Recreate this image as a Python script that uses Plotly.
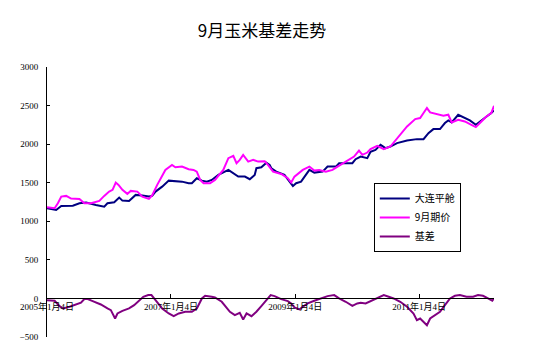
import plotly.graph_objects as go

# ---- data ----
spot_dates = [
    "2005-01-04", "2005-02-27", "2005-03-29", "2005-06-05", "2005-07-14", "2005-08-22",
    "2005-10-19", "2005-12-07", "2005-12-26", "2006-02-04", "2006-03-05", "2006-03-24",
    "2006-05-02", "2006-06-10", "2006-07-19", "2006-08-27", "2006-09-15", "2006-10-05",
    "2006-11-13", "2006-12-22", "2007-03-10", "2007-04-18", "2007-05-07", "2007-06-05",
    "2007-07-05", "2007-08-03", "2007-09-01", "2007-10-10", "2007-12-08", "2008-01-06",
    "2008-02-04", "2008-03-14", "2008-04-12", "2008-05-11", "2008-05-21", "2008-06-19",
    "2008-07-19", "2008-08-07", "2008-08-17", "2008-09-15", "2008-11-02", "2008-12-22",
    "2009-01-10", "2009-02-08", "2009-03-29", "2009-04-27", "2009-06-15", "2009-07-14",
    "2009-09-01", "2009-09-20", "2009-12-07", "2009-12-26", "2010-01-25", "2010-03-05",
    "2010-03-24", "2010-04-22", "2010-05-22", "2010-06-20", "2010-07-19", "2010-08-27",
    "2010-10-25", "2010-12-22", "2011-01-30", "2011-02-28", "2011-03-29", "2011-05-07",
    "2011-06-05", "2011-06-25", "2011-07-15", "2011-08-22", "2011-09-20", "2011-10-30",
    "2011-12-04", "2011-12-27", "2012-01-25", "2012-03-04", "2012-03-20",
]
spot_values = [
    1169, 1147, 1199, 1203, 1234, 1242,
    1212, 1190, 1234, 1247, 1307, 1268,
    1263, 1342, 1333, 1320, 1329, 1385,
    1449, 1527, 1514, 1493, 1493, 1558,
    1527, 1514, 1536, 1601, 1666, 1623,
    1579, 1579, 1545, 1601, 1688, 1700,
    1760, 1731, 1688, 1644, 1601, 1458,
    1493, 1514, 1666, 1631, 1644, 1709,
    1709, 1753, 1753, 1805, 1839, 1818,
    1900, 1926, 1991, 1948, 1969, 2013,
    2047, 2065, 2065, 2143, 2195, 2195,
    2273, 2307, 2281, 2381, 2351, 2307,
    2251, 2294, 2338, 2403, 2437,
]

fut_dates = [
    "2005-01-04", "2005-02-18", "2005-03-09", "2005-03-29", "2005-04-27", "2005-05-26",
    "2005-07-14", "2005-08-12", "2005-09-20", "2005-11-08", "2005-12-07", "2006-01-05",
    "2006-01-25", "2006-02-13", "2006-03-01", "2006-03-24", "2006-04-22", "2006-05-12",
    "2006-06-20", "2006-07-19", "2006-08-27", "2006-09-15", "2006-10-15", "2006-11-09",
    "2006-12-02", "2007-01-10", "2007-01-30", "2007-03-10", "2007-04-18", "2007-05-17",
    "2007-06-05", "2007-06-25", "2007-07-15", "2007-08-22", "2007-09-20", "2007-11-08",
    "2007-12-08", "2008-01-06", "2008-01-25", "2008-02-13", "2008-03-04", "2008-04-03",
    "2008-05-02", "2008-05-31", "2008-07-09", "2008-07-28", "2008-08-27", "2008-10-14",
    "2008-11-22", "2008-12-12", "2008-12-31", "2009-02-18", "2009-03-29", "2009-04-27",
    "2009-05-26", "2009-07-04", "2009-08-12", "2009-09-11", "2009-10-29", "2009-12-17",
    "2010-01-15", "2010-02-04", "2010-03-05", "2010-03-24", "2010-05-02", "2010-06-10",
    "2010-07-19", "2010-09-06", "2010-10-25", "2010-12-12", "2011-01-10", "2011-01-30",
    "2011-02-19", "2011-03-10", "2011-04-18", "2011-05-27", "2011-06-25", "2011-07-15",
    "2011-08-22", "2011-09-30", "2011-11-08", "2011-12-04", "2012-01-06", "2012-02-04",
    "2012-03-04", "2012-03-20",
]
fut_values = [
    1182, 1169, 1234, 1320, 1329, 1294,
    1290, 1234, 1234, 1264, 1329, 1385,
    1407, 1502, 1472, 1407, 1355, 1394,
    1385, 1320, 1290, 1335, 1472, 1572,
    1666, 1731, 1700, 1709, 1675, 1666,
    1644, 1536, 1493, 1493, 1536, 1666,
    1818, 1848, 1753, 1796, 1861, 1774,
    1796, 1774, 1779, 1731, 1644, 1614,
    1558, 1502, 1579, 1666, 1709, 1657,
    1666, 1644, 1666, 1709, 1774, 1839,
    1917, 1861, 1891, 1935, 1978, 1935,
    1969, 2099, 2229, 2325, 2338, 2403,
    2468, 2411, 2394, 2368, 2381, 2281,
    2316, 2294, 2251, 2221, 2294, 2359,
    2403, 2497,
]

basis_dates = [
    "2005-01-04", "2005-02-18", "2005-03-19", "2005-04-08", "2005-05-17", "2005-06-24",
    "2005-07-23", "2005-08-12", "2005-09-01", "2005-09-30", "2005-11-17", "2005-12-26",
    "2006-01-15", "2006-02-09", "2006-02-23", "2006-03-24", "2006-05-02", "2006-06-01",
    "2006-06-30", "2006-07-25", "2006-08-23", "2006-09-11", "2006-10-05", "2006-11-13",
    "2006-12-22", "2007-01-20", "2007-02-19", "2007-03-29", "2007-05-07", "2007-06-05",
    "2007-07-05", "2007-07-24", "2007-09-01", "2007-09-20", "2007-10-30", "2007-12-17",
    "2008-01-15", "2008-02-13", "2008-03-04", "2008-03-24", "2008-04-22", "2008-05-21",
    "2008-06-19", "2008-07-09", "2008-07-28", "2008-08-13", "2008-09-05", "2008-10-14",
    "2008-11-22", "2008-12-12", "2008-12-31", "2009-01-29", "2009-02-18", "2009-03-19",
    "2009-04-27", "2009-06-05", "2009-07-14", "2009-08-22", "2009-09-20", "2009-10-29",
    "2009-12-07", "2010-01-05", "2010-01-25", "2010-02-23", "2010-04-03", "2010-05-02",
    "2010-06-10", "2010-07-09", "2010-08-07", "2010-09-15", "2010-10-25", "2010-12-02",
    "2010-12-22", "2011-01-10", "2011-01-30", "2011-02-19", "2011-03-10", "2011-04-08",
    "2011-05-07", "2011-06-05", "2011-07-05", "2011-08-03", "2011-09-01", "2011-10-10",
    "2011-11-18", "2011-12-17", "2012-01-15", "2012-02-14", "2012-03-10", "2012-03-20",
]
basis_values = [
    -22, -30, -100, -130, -108, -78,
    -56, -9, -9, -35, -78, -130,
    -152, -260, -195, -161, -130, -87,
    -35, 21, 43, 43, -22, -130,
    -195, -230, -195, -173, -173, -130,
    0, 34, 21, 13, -43, -173,
    -217, -186, -273, -195, -230, -173,
    -100, -50, -10, 43, 30, -9,
    -35, -65, -117, -143, -108, -65,
    -30, 0, 30, 43, 0, -43,
    -96, -65, -56, -65, -22, 0,
    43, 21, 0, -43, -108, -195,
    -282, -260, -304, -347, -260, -217,
    -173, -87, 0, 34, 43, 21,
    21, 43, 34, 0, -30, 0,
]

series_names = ["大连平舱", "9月期价", "基差"]
series_colors = ["#000080", "#FF00FF", "#800080"]

x_tick_vals = ["2005-01-04", "2007-01-04", "2009-01-04", "2011-01-04"]
x_tick_text = ["2005年1月4日", "2007年1月4日", "2009年1月4日", "2011年1月4日"]
y_tick_vals = [-500, 0, 500, 1000, 1500, 2000, 2500, 3000]

title_text = "9月玉米基差走势"

# ---- figure ----
fig = go.Figure()
for xs, ys, name, color in zip(
    [spot_dates, fut_dates, basis_dates],
    [spot_values, fut_values, basis_values],
    series_names, series_colors,
):
    fig.add_trace(go.Scatter(
        x=xs, y=ys, mode="lines", name=name,
        line=dict(color=color, width=2),
    ))

# page body has an 8px margin, so the figure is drawn 8px smaller / shifted
W, H = 532, 349
ymin, ymax = -500, 3000
fig.update_layout(
    width=W, height=H,
    margin=dict(l=36, r=46, t=59, b=20),
    paper_bgcolor="white", plot_bgcolor="white",
    title=dict(
        text=title_text, x=254 / W, xanchor="center",
        y=1 - 23 / H, yanchor="middle", yref="container",
        font=dict(family="Noto Sans CJK SC", size=17, color="black"),
    ),
    showlegend=True,
    legend=dict(
        x=(373 - 44) / 450, y=(337 - 183) / 270, xanchor="left", yanchor="top",
        bgcolor="white", bordercolor="black", borderwidth=1,
        font=dict(family="Noto Sans CJK SC", size=10, color="black"),
        tracegroupgap=0,
    ),
    xaxis=dict(
        type="date",
        range=["2005-01-04", "2012-03-20"],
        anchor="free",
        position=(0 - ymin) / (ymax - ymin),
        showline=True, linecolor="black", linewidth=1,
        ticks="inside", ticklen=4, tickcolor="black",
        tickvals=x_tick_vals, ticktext=x_tick_text,
        tickfont=dict(family="Liberation Serif, Noto Sans CJK SC", size=9, color="black"),
        showgrid=False, zeroline=False,
    ),
    yaxis=dict(
        range=[ymin, ymax],
        tickvals=y_tick_vals,
        showline=True, linecolor="black", linewidth=1,
        ticks="inside", ticklen=3, tickcolor="black",
        ticklabelstandoff=6,
        tickfont=dict(family="Liberation Serif", size=9, color="black"),
        showgrid=False, zeroline=False,
    ),
)

fig.write_html("out.html")
